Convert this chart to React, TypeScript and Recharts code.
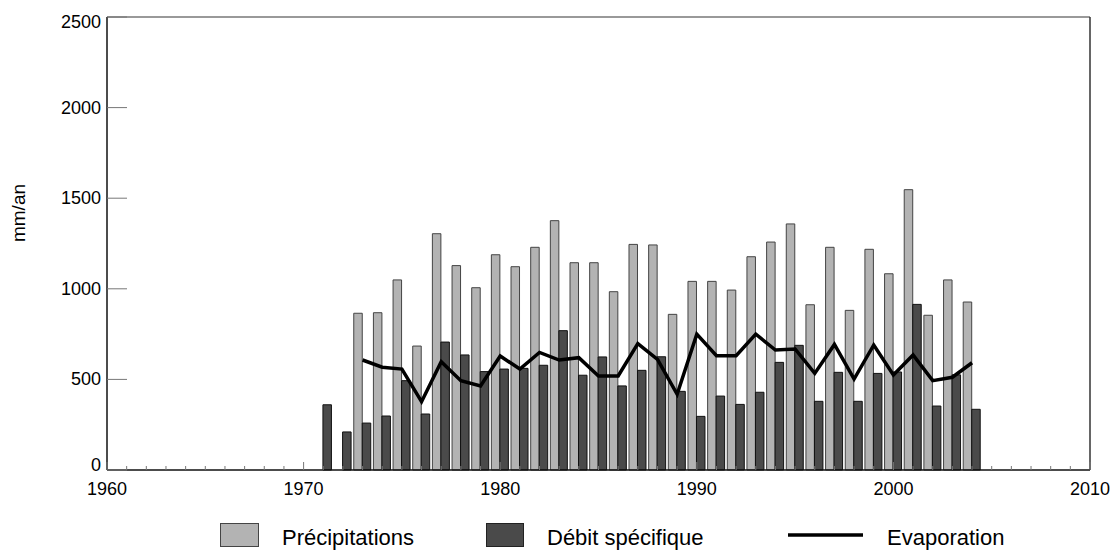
import React from 'react';
import {
  ComposedChart,
  Bar,
  Line,
  XAxis,
  YAxis,
  ReferenceLine,
} from 'recharts';

// Years covered by the series
const years = [
  1971, 1972, 1973, 1974, 1975, 1976, 1977, 1978, 1979, 1980,
  1981, 1982, 1983, 1984, 1985, 1986, 1987, 1988, 1989, 1990,
  1991, 1992, 1993, 1994, 1995, 1996, 1997, 1998, 1999, 2000,
  2001, 2002, 2003, 2004,
];

// Précipitations (mm/an)
const precipitations = [
  null, null, 865, 868, 1049, 684, 1304, 1128, 1006, 1188,
  1122, 1229, 1376, 1144, 1144, 984, 1245, 1242, 859, 1041,
  1041, 993, 1177, 1258, 1358, 912, 1229, 881, 1218, 1083,
  1547, 854, 1049, 927,
];

// Débit spécifique (mm/an)
const debitSpecifique = [
  360, 210, 259, 298, 493, 309, 706, 635, 543, 557,
  561, 578, 769, 523, 624, 464, 550, 625, 434, 296,
  408, 362, 429, 594, 688, 379, 539, 379, 533, 541,
  914, 353, 525, 335,
];

// Evaporation (mm/an)
const evaporation = [
  null, null, 607, 567, 557, 377, 598, 493, 464, 629,
  557, 649, 607, 620, 519, 519, 697, 611, 418, 750,
  631, 631, 750, 662, 668, 533, 693, 502, 690, 524,
  635, 493, 512, 592,
];

// Axis ticks
const xTicks = Array.from({ length: 51 }, (_, i) => 1960 + i);
const yTicks = [0, 500, 1000, 1500, 2000, 2500];

const chartData = years.map((year, i) => ({
  year,
  precip: precipitations[i],
  debit: debitSpecifique[i],
  evap: evaporation[i],
}));

const FONT = '"Liberation Sans", Arial, Helvetica, sans-serif';
const LIGHT = '#b3b3b3';
const DARK = '#4a4a4a';

// every year gets a small inward tick, decades get a label
const YearTick = ({ x, y, payload }: any) => {
  const major = payload.value % 10 === 0;
  return (
    <g>
      <line x1={x} x2={x} y1={y} y2={y - (major ? 8 : 4)} stroke="#777" strokeWidth={1} />
      {major && (
        <text x={x} y={y + 25} textAnchor="middle" fontSize={18} fontFamily={FONT} fill="#000">
          {payload.value}
        </text>
      )}
    </g>
  );
};

// end labels are nudged inside the frame, as in the original plot
const ValueTick = ({ x, y, payload }: any) => {
  const nudge = payload.value === 2500 ? 5 : payload.value === 0 ? -5 : 0;
  return (
    <g>
      <line x1={x} x2={x + 20} y1={y} y2={y} stroke="#777" strokeWidth={1} />
      <text x={x - 6} y={y + 6 + nudge} textAnchor="end" fontSize={18} fontFamily={FONT} fill="#000">
        {payload.value}
      </text>
    </g>
  );
};

const Legend = () => (
  <svg
    width={1113}
    height={551}
    style={{ position: 'absolute', left: 0, top: 0, pointerEvents: 'none' }}
  >
    <rect x={220.5} y={523.5} width={38} height={23} fill={LIGHT} stroke="#444" />
    <text x={282} y={545} fontSize={22} fontFamily={FONT} fill="#000">Précipitations</text>
    <rect x={486.5} y={523.5} width={37} height={23} fill={DARK} stroke="#222" />
    <text x={547} y={545} fontSize={22} fontFamily={FONT} fill="#000">Débit spécifique</text>
    <line x1={788} x2={863} y1={535} y2={535} stroke="#000" strokeWidth={3.5} />
    <text x={887} y={545} fontSize={22} fontFamily={FONT} fill="#000">Evaporation</text>
  </svg>
);

export default function App() {
  return (
    <div style={{ position: 'absolute', left: 0, top: 0, width: 1113, height: 551, background: '#fff' }}>
      <ComposedChart
        width={1113}
        height={551}
        data={chartData}
        margin={{ top: 17, right: 23, left: 47, bottom: 51 }}
        barSize={8.5}
        barGap={0}
      >
        <XAxis
          dataKey="year"
          type="number"
          domain={[1960, 2010]}
          ticks={xTicks}
          interval={0}
          height={30}
          tickSize={0}
          tickMargin={0}
          tickLine={false}
          tick={<YearTick />}
          axisLine={{ stroke: '#111', strokeWidth: 1.5 }}
        />
        <YAxis
          type="number"
          domain={[0, 2500]}
          ticks={yTicks}
          width={60}
          tickSize={0}
          tickMargin={0}
          tickLine={false}
          tick={<ValueTick />}
          axisLine={{ stroke: '#111', strokeWidth: 1.5 }}
          label={{
            content: () => (
              <text
                x={25}
                y={213}
                transform="rotate(-90 25 213)"
                textAnchor="middle"
                fontSize={19}
                fontFamily={FONT}
                fill="#000"
              >
                mm/an
              </text>
            ),
          }}
        />
        <ReferenceLine y={2500} stroke="#777" strokeWidth={1.5} />
        <ReferenceLine x={2010} stroke="#333" strokeWidth={1.5} />
        <Bar dataKey="precip" fill={LIGHT} stroke="#444" strokeWidth={1} isAnimationActive={false} />
        <Bar dataKey="debit" fill={DARK} stroke="#111" strokeWidth={1} isAnimationActive={false} />
        <Line
          dataKey="evap"
          type="linear"
          stroke="#000"
          strokeWidth={3.5}
          dot={false}
          activeDot={false}
          isAnimationActive={false}
        />
      </ComposedChart>
      <Legend />
    </div>
  );
}
